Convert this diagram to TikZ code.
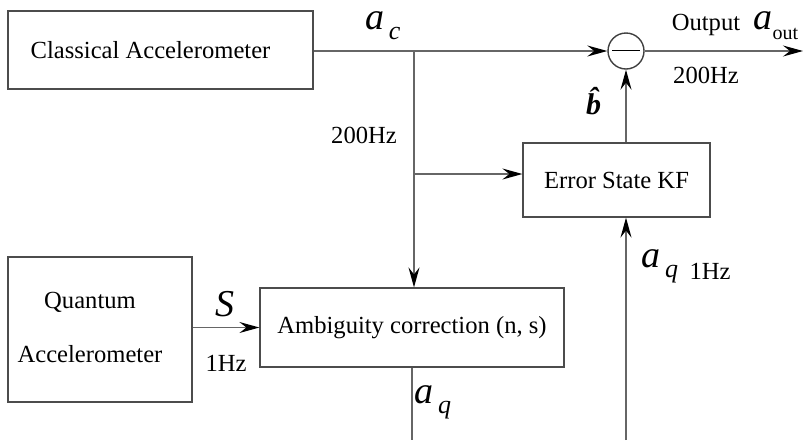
\documentclass[tikz,border=0pt]{standalone}
\usepackage{fontspec}
\setmainfont{Liberation Serif}
\usetikzlibrary{arrows.meta}
\tikzset{
  block/.style={rectangle, draw=black!70, line width=0.6pt, fill=white, inner sep=0pt, font=\fontsize{12.3}{14}\selectfont},
  sumnode/.style={circle, draw=black!75, line width=0.7pt, minimum size=18pt, inner sep=0pt},
  signal/.style={draw=black!60, line width=0.7pt},
  flow/.style={signal, -{Stealth[length=10pt,width=5.5pt,inset=3.5pt,color=black]}},
  tag/.style={inner sep=0pt, font=\fontsize{12.3}{14}\selectfont},
  mathtag/.style={inner sep=0pt, font=\fontsize{19}{21}\selectfont\itshape}
}
\newcommand{\subtxt}[1]{\raisebox{-5pt}{\fontsize{13}{15}\selectfont #1}}

\begin{document}
\begin{tikzpicture}[x=0.5pt, y=-0.5pt]
  \useasboundingbox (0,0) rectangle (804,440);

  % blocks
  \node[block, minimum width=152.5pt, minimum height=39pt] (classical) at (160.5,50) {\hspace*{-10pt}Classical Accelerometer};
  \node[block, minimum width=92pt, minimum height=72.5pt] (quantum) at (100,329.5) {\hspace*{-10pt}\begin{tabular}{@{}c@{}}Quantum\\[13pt]Accelerometer\end{tabular}};
  \node[block, minimum width=152pt, minimum height=39.5pt] (ambig) at (412,327.5) {\raisebox{-2pt}{Ambiguity correction (n, s)}};
  \node[block, minimum width=93.5pt, minimum height=37pt] (kf) at (616.5,180) {Error State KF};
  \node[sumnode] (sum) at (626,51) {\rule[0.5pt]{14pt}{0.9pt}};

  % helper points
  \coordinate (tap) at (414,51);
  \coordinate (split) at (414,174);
  \coordinate (outend) at (803,51);
  \coordinate (aqout) at (412,440);
  \coordinate (aqin) at (626,440);

  % connectors
  \draw[signal] (classical.east |- tap) -- (tap);
  \draw[flow] (tap) -- (sum.west);
  \draw[flow] (tap) -- (ambig.north -| tap);
  \draw[flow] (split) -- (kf.west |- split);
  \draw[flow] (kf.north -| sum) -- (sum.south);
  \draw[flow] (sum.east) -- (outend);
  \draw[flow] (quantum.east |- ambig) -- (ambig.west);
  \draw[signal] (ambig.south -| aqout) -- (aqout);
  \draw[flow] (aqin) -- (kf.south -| aqin);

  % labels
  \node[mathtag] (aclab) at (383,26) {a\subtxt{\,c}};
  \node[tag] (hzleft) at (364,135) {200Hz};
  \node[tag] (outlab) at (706,25) {Output};
  \node[mathtag] (aoutlab) at (776,26) {a\subtxt{\upshape\fontsize{10}{12}\selectfont out}};
  \node[tag] (hzout) at (706,75) {200Hz};
  \node[inner sep=0pt, font=\fontsize{15}{17}\selectfont] (bhat) at (597,101) {\textbf{\textit{\^{b}}}};
  \node[mathtag] (slab) at (225,304) {S};
  \node[tag] (hzq) at (226,363) {1Hz};
  \node[mathtag] (aqlab) at (433,402) {a\subtxt{\,q}};
  \node[mathtag] (aqkf) at (660,266) {a\subtxt{\,q}};
  \node[tag] (hzkf) at (710,271) {1Hz};
\end{tikzpicture}
\end{document}
